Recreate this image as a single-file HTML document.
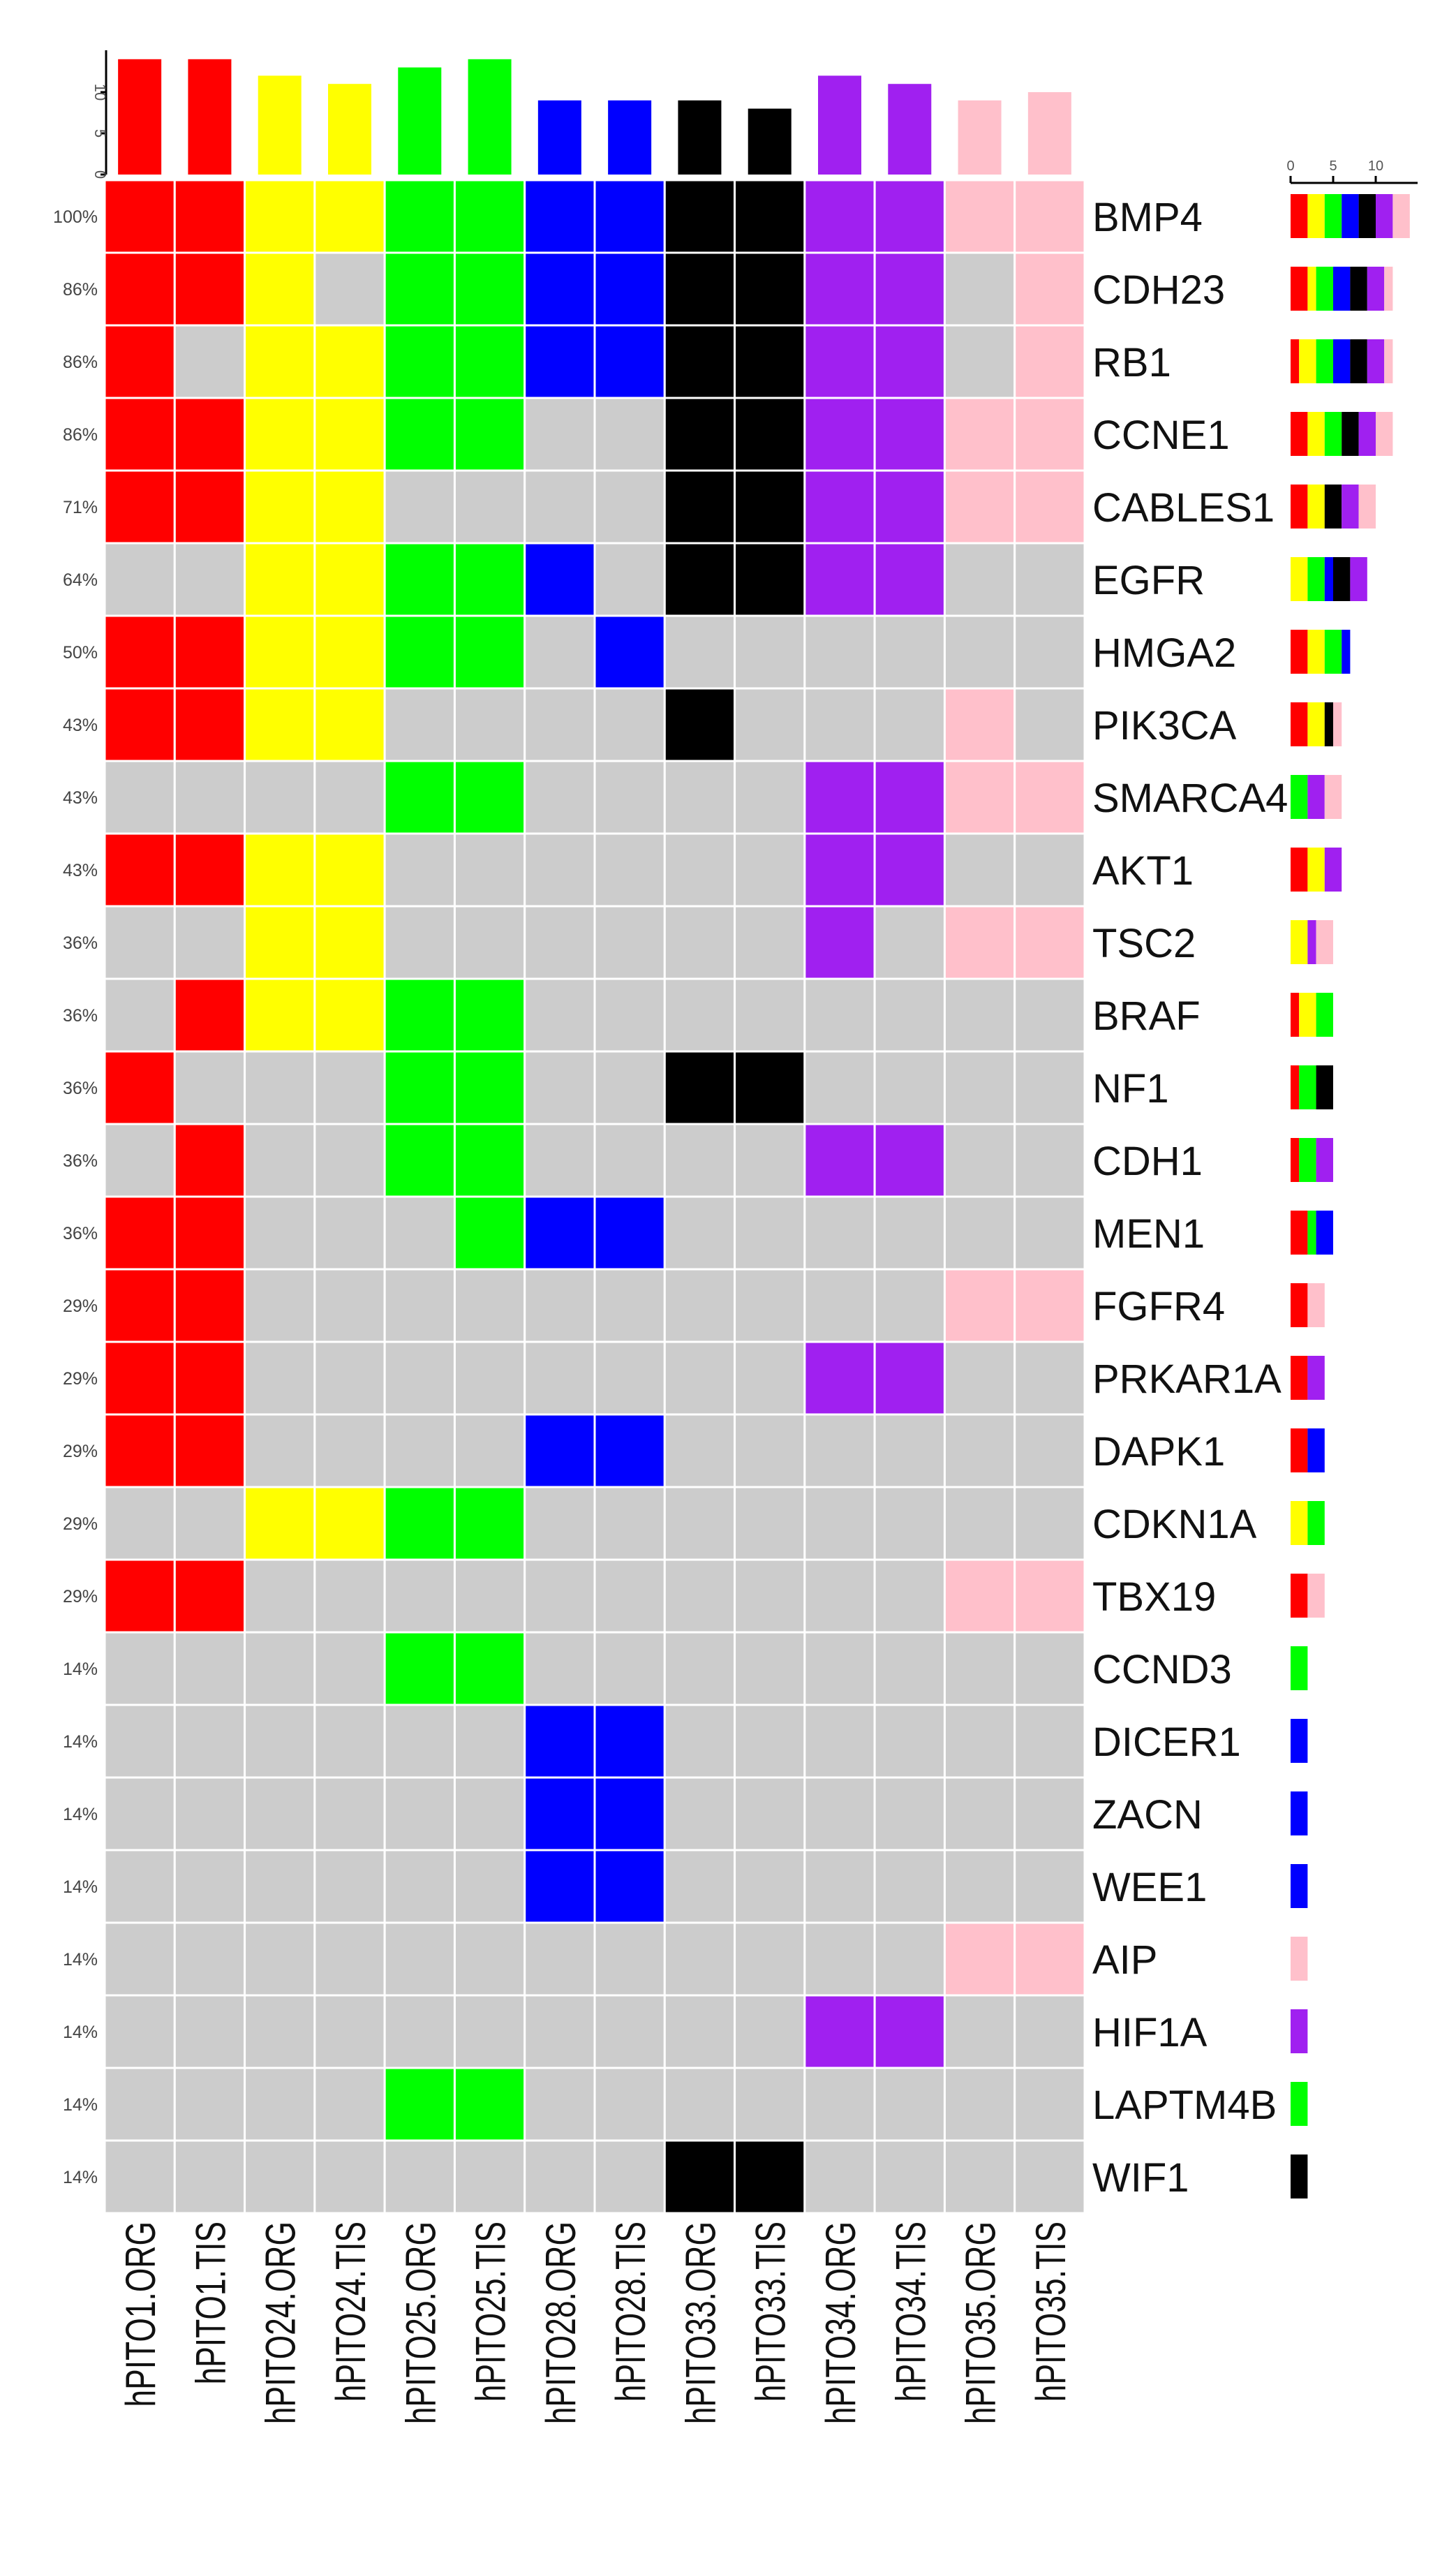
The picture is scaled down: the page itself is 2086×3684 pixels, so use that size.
<!DOCTYPE html>
<html><head><meta charset="utf-8"><style>
body{margin:0;background:#fff}
svg{display:block;font-family:"Liberation Sans",sans-serif}
</style></head><body>
<svg id="chart" width="2086" height="3684" viewBox="0 0 2086 3684" xmlns="http://www.w3.org/2000/svg"></svg>
<script>
const samples = ["hPITO1.ORG","hPITO1.TIS","hPITO24.ORG","hPITO24.TIS","hPITO25.ORG","hPITO25.TIS","hPITO28.ORG","hPITO28.TIS","hPITO33.ORG","hPITO33.TIS","hPITO34.ORG","hPITO34.TIS","hPITO35.ORG","hPITO35.TIS"];
const sampleColors = ["#ff0000","#ff0000","#ffff00","#ffff00","#00ff00","#00ff00","#0000ff","#0000ff","#000000","#000000","#a020f0","#a020f0","#ffc0cb","#ffc0cb"];
const genes = ["BMP4","CDH23","RB1","CCNE1","CABLES1","EGFR","HMGA2","PIK3CA","SMARCA4","AKT1","TSC2","BRAF","NF1","CDH1","MEN1","FGFR4","PRKAR1A","DAPK1","CDKN1A","TBX19","CCND3","DICER1","ZACN","WEE1","AIP","HIF1A","LAPTM4B","WIF1"];
const percents = ["100%","86%","86%","86%","71%","64%","50%","43%","43%","43%","36%","36%","36%","36%","36%","29%","29%","29%","29%","29%","14%","14%","14%","14%","14%","14%","14%","14%"];
const matrix = [
[1,1,1,1,1,1,1,1,1,1,1,1,1,1],
[1,1,1,0,1,1,1,1,1,1,1,1,0,1],
[1,0,1,1,1,1,1,1,1,1,1,1,0,1],
[1,1,1,1,1,1,0,0,1,1,1,1,1,1],
[1,1,1,1,0,0,0,0,1,1,1,1,1,1],
[0,0,1,1,1,1,1,0,1,1,1,1,0,0],
[1,1,1,1,1,1,0,1,0,0,0,0,0,0],
[1,1,1,1,0,0,0,0,1,0,0,0,1,0],
[0,0,0,0,1,1,0,0,0,0,1,1,1,1],
[1,1,1,1,0,0,0,0,0,0,1,1,0,0],
[0,0,1,1,0,0,0,0,0,0,1,0,1,1],
[0,1,1,1,1,1,0,0,0,0,0,0,0,0],
[1,0,0,0,1,1,0,0,1,1,0,0,0,0],
[0,1,0,0,1,1,0,0,0,0,1,1,0,0],
[1,1,0,0,0,1,1,1,0,0,0,0,0,0],
[1,1,0,0,0,0,0,0,0,0,0,0,1,1],
[1,1,0,0,0,0,0,0,0,0,1,1,0,0],
[1,1,0,0,0,0,1,1,0,0,0,0,0,0],
[0,0,1,1,1,1,0,0,0,0,0,0,0,0],
[1,1,0,0,0,0,0,0,0,0,0,0,1,1],
[0,0,0,0,1,1,0,0,0,0,0,0,0,0],
[0,0,0,0,0,0,1,1,0,0,0,0,0,0],
[0,0,0,0,0,0,1,1,0,0,0,0,0,0],
[0,0,0,0,0,0,1,1,0,0,0,0,0,0],
[0,0,0,0,0,0,0,0,0,0,0,0,1,1],
[0,0,0,0,0,0,0,0,0,0,1,1,0,0],
[0,0,0,0,1,1,0,0,0,0,0,0,0,0],
[0,0,0,0,0,0,0,0,1,1,0,0,0,0]];
const topTicks = [0,5,10];
const sideTicks = [0,5,10];

const NS="http://www.w3.org/2000/svg", svg=document.getElementById("chart");
function mk(t,a,txt){const e=document.createElementNS(NS,t);for(const k in a)e.setAttribute(k,a[k]);if(txt!==undefined)e.textContent=txt;svg.appendChild(e);return e;}
const HX0=150, HY0=258, CW=(1554-150)/14, RH=(3170-258)/28;
const colX=i=>HX0+i*CW, rowY=j=>HY0+j*RH;
const TOP0=250, TOPU=11.8; const topY=v=>TOP0-v*TOPU;
const SIDE0=1849, SIDEU=12.2; const sideX=v=>SIDE0+v*SIDEU;

matrix.forEach((row,j)=>row.forEach((v,i)=>{
  const r=mk("rect",{x:colX(i),y:rowY(j),width:CW,height:RH,fill:v?sampleColors[i]:"#cccccc",stroke:"#fff","stroke-width":3});
  
  
}));
genes.forEach((g,j)=>{
  const p=mk("text",{x:140,y:rowY(j)+RH/2+9,"text-anchor":"end","font-size":25,fill:"#444"},percents[j]);
  
  
  const t=mk("text",{x:1565,y:rowY(j)+RH/2+21,"font-size":58,fill:"#111"},g);
  
  
  let acc=0;
  const groups=[0,2,4,6,8,10,12];
  groups.forEach(gi=>{
    const n=matrix[j][gi]+matrix[j][gi+1];
    if(n>0){
      const r=mk("rect",{x:sideX(acc),y:rowY(j)+RH/2-32,width:sideX(acc+n)-sideX(acc),height:63,fill:sampleColors[gi]});
      
      
      acc+=n;
    }
  });
});
samples.forEach((s,i)=>{
  const cx=colX(i)+CW/2+22, y=3182;
  const t=mk("text",{x:0,y:0,"text-anchor":"end","font-size":60,fill:"#111",transform:`translate(${cx} ${y}) rotate(-90) scale(0.74 1)`},s);
  
  
  let n=0; matrix.forEach(r=>n+=r[i]);
  const b=mk("rect",{x:colX(i)+CW/2-31,y:topY(n),width:62,height:TOP0-topY(n),fill:sampleColors[i]});
  
  
});
const ax=mk("line",{x1:152,y1:72,x2:152,y2:TOP0,stroke:"#000","stroke-width":3});


topTicks.forEach(v=>{
  const l=mk("line",{x1:144,y1:topY(v),x2:152,y2:topY(v),stroke:"#000","stroke-width":3});
  
  
  const tx=136,ty=topY(v);
  const t=mk("text",{x:tx,y:ty,"text-anchor":"middle","font-size":22,fill:"#555",transform:`rotate(90 ${tx} ${ty})`},String(v));
  
  
});
const sx=mk("line",{x1:SIDE0,y1:262,x2:2031,y2:262,stroke:"#000","stroke-width":3});


sideTicks.forEach(v=>{
  const l=mk("line",{x1:sideX(v),y1:252,x2:sideX(v),y2:262,stroke:"#000","stroke-width":3});
  
  
  const t=mk("text",{x:sideX(v),y:244,"text-anchor":"middle","font-size":20,fill:"#555"},String(v));
  
  
});
</script>
</body></html>
